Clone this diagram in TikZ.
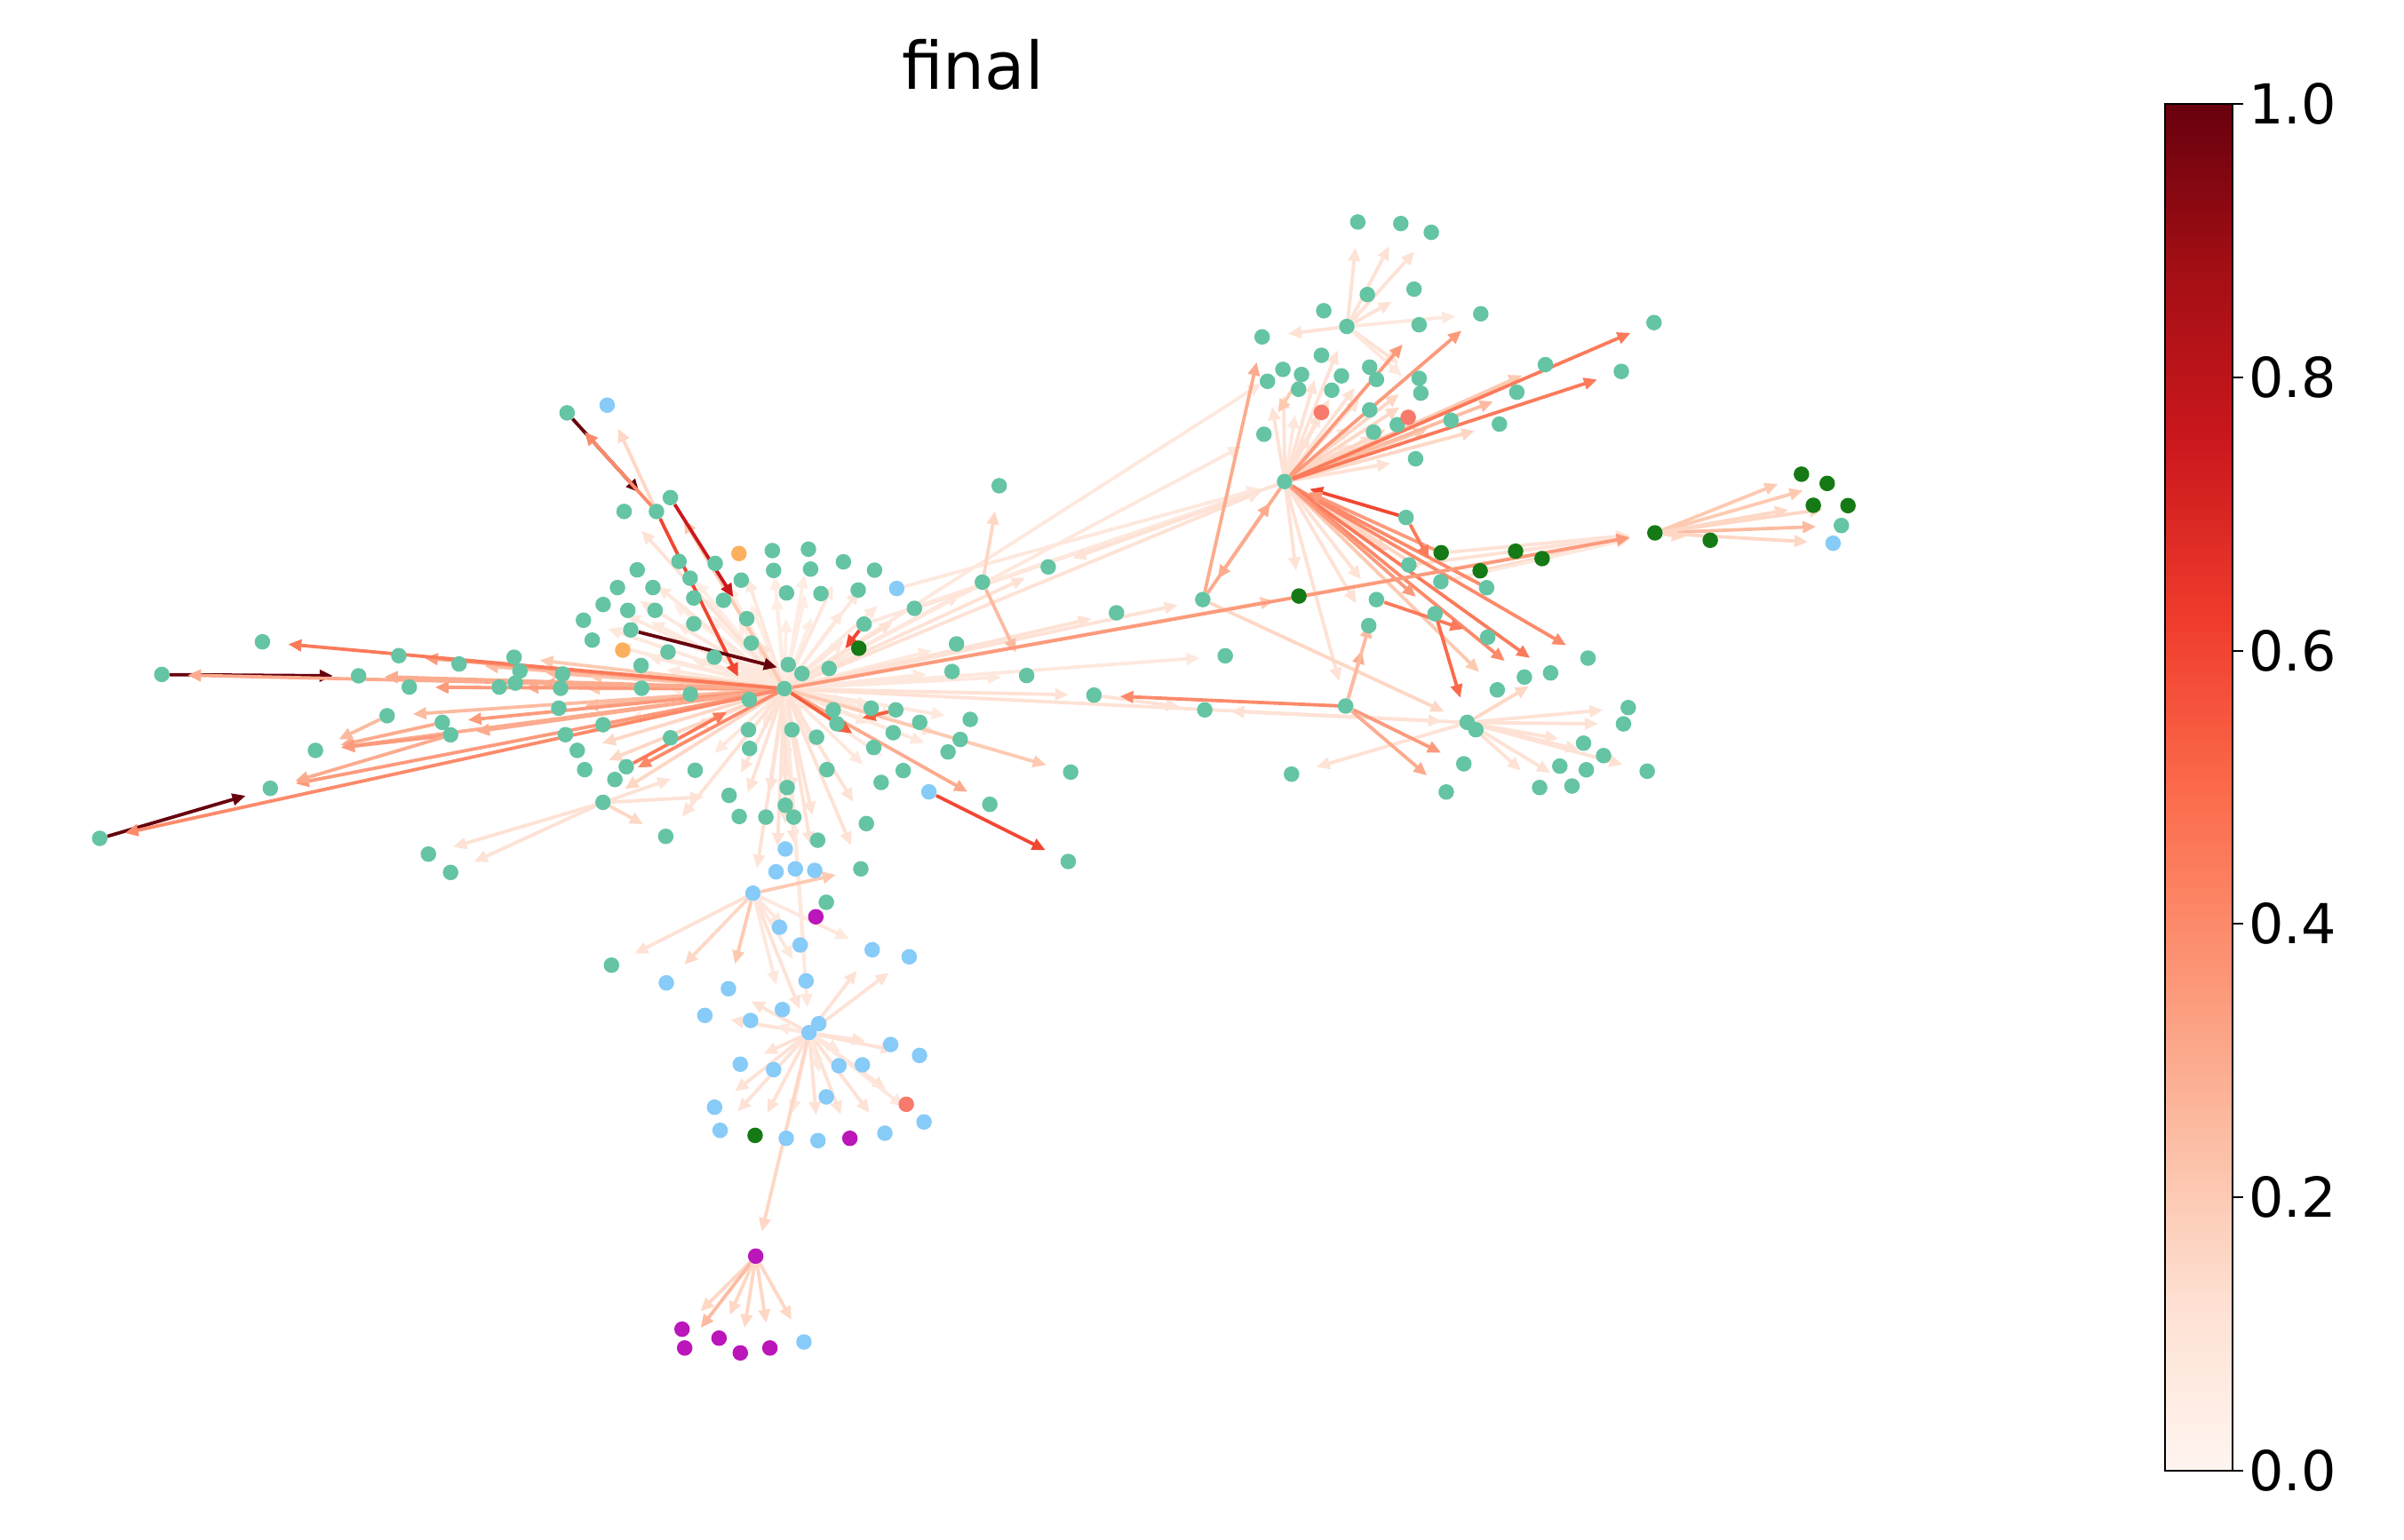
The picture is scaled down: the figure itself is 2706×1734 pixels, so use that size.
\documentclass[tikz,border=0pt]{standalone}
\usepackage{fontspec}
\setmainfont{DejaVu Sans}
\usetikzlibrary{arrows.meta}
\definecolor{rd0}{HTML}{FFF5F0}
\definecolor{rd1}{HTML}{FEE0D2}
\definecolor{rd2}{HTML}{FCBBA1}
\definecolor{rd3}{HTML}{FC9272}
\definecolor{rd4}{HTML}{FB6A4A}
\definecolor{rd5}{HTML}{EF3B2C}
\definecolor{rd6}{HTML}{CB181D}
\definecolor{rd7}{HTML}{A50F15}
\definecolor{rd8}{HTML}{67000D}
\definecolor{ce05}{HTML}{FFEDE4}
\definecolor{ce07}{HTML}{FEE8DD}
\definecolor{ce10}{HTML}{FEE2D5}
\definecolor{ce15}{HTML}{FED7C5}
\definecolor{ce20}{HTML}{FDCAB1}
\definecolor{ce25}{HTML}{FCBBA1}
\definecolor{ce30}{HTML}{FCAB8E}
\definecolor{ce35}{HTML}{FC9A7C}
\definecolor{ce40}{HTML}{FC8A6A}
\definecolor{ce45}{HTML}{FB7A5A}
\definecolor{ce50}{HTML}{FB6A4A}
\definecolor{ce55}{HTML}{F65E3E}
\definecolor{ce60}{HTML}{F14731}
\definecolor{ce75}{HTML}{CB181D}
\definecolor{ce100}{HTML}{67000D}
\definecolor{cT}{HTML}{64C4A4}
\definecolor{cB}{HTML}{87CBF8}
\definecolor{cG}{HTML}{157A15}
\definecolor{cM}{HTML}{BA16BA}
\definecolor{cO}{HTML}{FBB05E}
\definecolor{cS}{HTML}{F77A6C}
\pgfdeclareverticalshading{redsmap}{100bp}{color(0bp)=(rd0); color(25bp)=(rd0); color(31.25bp)=(rd1); color(37.5bp)=(rd2); color(43.75bp)=(rd3); color(50bp)=(rd4); color(56.25bp)=(rd5); color(62.5bp)=(rd6); color(68.75bp)=(rd7); color(75bp)=(rd8); color(100bp)=(rd8)}
\pgfdeclarelayer{bglayer}
\pgfdeclarelayer{edgelayer}
\pgfsetlayers{bglayer,edgelayer,main}
\tikzset{
  nd/.style={circle,inner sep=0pt,minimum size=17.5pt,draw=none},
  ed/.style={line width=3.8pt,-{Triangle[length=15pt,width=13pt]},shorten >=20pt},
  ticklab/.style={anchor=west,inner sep=0pt,font=\fontsize{62}{62}\selectfont},
}
\begin{document}
\begin{tikzpicture}[x=1pt,y=-1pt]
\useasboundingbox (0,0) rectangle (2706,1734);
\begin{pgfonlayer}{bglayer}
\fill[white] (0,0) rectangle (2706,1734);
\end{pgfonlayer}
% title
\node[anchor=base,inner sep=0pt,font=\fontsize{74}{80}\selectfont] (title) at (1095,101) {final};
% colorbar
\shade[shading=redsmap] (2437,117) rectangle (2513,1656);
\draw[line width=2pt] (2437,117) rectangle (2513,1656);
\foreach \v/\yy [count=\k] in {1.0/117,0.8/424.8,0.6/732.6,0.4/1040.4,0.2/1348.2,0.0/1656}{
  \draw[line width=2pt] (2513,\yy) -- (2525,\yy);
  \node[ticklab] (tk\k) at (2531,\yy) {\v};
}
\begin{scope}[scale=1.7346]
% ---------- nodes ----------
\foreach \n/\x/\y in {a1/368/268, a3/405/332, a4/426/332, a5/435/323,
 c2/501.2/357.4, c3/524.6/356.5, c4/547.3/364.7, c5/567.5/370.1, c7/593.4/394.9, c8/413.5/369.9, c9/440.6/364.4, c10/464.1/365.7, c11/447.8/375.3, c12/481/376.6, c13/502/370.3, c14/526/369.4, c15/510.4/384.9, c16/532.7/385.3, c17/556.9/383, c18/400.7/381.4, c19/423.7/381.4, c20/450.2/388.2, c21/469.5/389.7, c22/391.4/392.4, c23/407.4/396.2, c24/425.1/396.2, c25/484.6/401.6, c26/378.6/402.6, c27/450.2/404.9, c28/409.3/408.9, c29/560.7/405.1, c30/384.3/415.5, c32/433.5/423.2, c33/487.5/417.4, c35/463.5/426.6, c36/511.5/431.4, c37/520.4/437.2, c38/538/433.9, c39/416/432, c40/365.1/437.5, c41/617.8/435.9, c42/620.7/418,
 h1/509/447,
 d1/363.8/446.8, d2/362.6/459.7, d3/416.4/446.8, d4/448/450.6, d5/486.2/454.1, d6/666.2/438.5, d7/709.9/451.2, d8/540.7/460.8, d9/565.3/459.7, d10/581.3/460.8, d11/543.1/469.8, d12/596.8/468.9, d13/629.6/467, d14/579.6/475.6, d15/623.1/480, d16/615.2/488.1, d17/567/485.2, d18/485.7/473.7, d19/513.9/473.7, d20/529.9/478.5, d21/486.4/485.8, d22/435.1/478.9, d23/391.3/470.4, d24/366.9/476.9, d25/374.6/487.1, d26/379.4/499.6, d27/406.4/497.7, d28/399/506, d29/391.3/520.8, d30/451.1/500, d31/536.6/499.6, d32/586.1/500.2, d33/571.8/507.9, d35/642.3/522.1, d36/694.8/501.2, d37/693.2/559.2, d38/510.8/511.2, d39/509.6/522.7, d40/515.1/530.4, d41/473.1/516.3, d42/479.7/530, d43/497/530.4, d44/562.2/534.6, d45/530.6/545.4, d46/432/542.9, d51/558.6/564,
 f1/396.8/626.5, f12/536.2/585.7,
 l1/105/437.8, l2/64.7/544.2, l3/170.3/416.6, l4/175.4/511.7, l5/204.7/487.1, l6/232.7/438.7, l7/258.8/425.6, l8/251.2/464.6, l9/265.6/446, l10/297.9/431, l11/287/468.9, l12/292.4/477, l13/324/446, l14/333.6/426.6, l15/337.4/435.5, l16/334.4/443.4, l17/278/554.4, l18/292.4/566.3,
 v1/648.4/315.3, v2/680.2/368, v3/637.5/377.9,
 r1/881.1/144.1, r2/909/145.1, r3/928.8/150.8, r4/887.3/191.2, r5/917.6/187.7, r6/859/201.7, r7/874/211.9, r8/920.9/210.8, r9/960.9/203.7, r10/819/218.7, r11/857.5/230.6, r12/832.5/239.8, r13/844.6/243.1, r14/870.5/244, r15/888.8/238.3, r16/893.2/246.3, r17/920.9/245.6, r18/922/255.2, r19/1002.8/236.7, r20/984.3/254.6, r21/822.5/247.5, r22/842.7/252.7, r23/864.2/253.3, r26/888.8/266.1, r27/906.7/275.7, r28/891.3/280.5, r29/941.6/272.8, r30/973/275.3, r31/918.6/297.8, r32/820.2/281.9, r33/833.6/312.6,
 s1/912.4/335.9, s3/914.2/366.7, s4/935/377.6, s6/964.7/381.5, s9/780.5/389.2, s11/724.5/397.8, s12/893.2/389.2, s13/888.2/406.1, s14/931.2/398.4, s15/965.4/413.6, s16/1030.5/427.2, s17/1006.2/436.8, s18/989.2/439.5, s19/971.6/447.8, s20/795.1/425.7, s21/781.8/460.8, s22/873.2/458.3, s23/952.1/468.9, s24/957.7/473.7, s25/1027.6/482.4, s26/949.9/495.8, s27/1012.2/497.3, s28/1029.4/499.7, s29/999.1/511.2, s30/1020.1/510.2, s31/938.5/514.1, s32/838.1/502.5, s33/1056.6/459.3, s34/1053.5/469.9, s35/1040.6/490.5, s36/1068.9/500.6,
 u1/1073.3/209.4, u2/1052.1/241.1, u9/1194.9/341.1}
  \node[nd,fill=cT] (\n) at (\x,\y) {};
\foreach \n/\x/\y in {a2/394/263, c6/581.9/382, d34/602.8/514, d47/509.6/551.1, d48/503.6/565.9, d49/516.1/564, d50/528.7/565, d52/488.6/579.8,
 f2/432.4/638, f3/472.7/641.8, f4/457.4/659.1, f5/487.1/662.4, f6/507.7/655.3, f7/505.8/601.9, f8/519.2/613.4, f9/523.1/636.7, f10/566/616.5, f11/590/621.1, f14/525/670.3, f15/531.3/664.5, f16/578/678, f17/596.7/685.1, f18/480.4/690.8, f19/502/694.3, f20/544.4/691.8, f21/559.6/691.2, f22/536.2/712, f24/599.6/728.3, f25/463.7/718.7, f26/467.3/733.7, f28/510.2/738.9, f29/530.8/740.4, f31/574.2/735.6, g7/521.7/871.1, u10/1189.5/352.6}
  \node[nd,fill=cB] (\n) at (\x,\y) {};
\foreach \n/\x/\y in {c34/557.3/420.8, f27/490/737, s2/935.2/358.8, s5/960.5/370.5, s7/983.5/357.8, s8/1000.7/362.6, s10/842.9/386.9, u3/1073.9/345.9, u4/1109.8/350.7, u5/1169/307.8, u6/1185.7/313.8, u7/1176.7/328, u8/1199.2/328.2}
  \node[nd,fill=cG] (\n) at (\x,\y) {};
\foreach \n/\x/\y in {f13/529.4/595.1, f30/551.5/738.9, g1/490.4/815.4, g2/442.6/862.8, g3/444.3/875, g4/466.6/868.6, g5/480.4/878.2, g6/499.6/875}
  \node[nd,fill=cM] (\n) at (\x,\y) {};
\foreach \n/\x/\y in {c1/479.5/359.3, c31/404.1/422}
  \node[nd,fill=cO] (\n) at (\x,\y) {};
\foreach \n/\x/\y in {f23/588.1/716.8, r24/857.5/267.7, r25/913.8/270.9}
  \node[nd,fill=cS] (\n) at (\x,\y) {};
% ---------- edges ----------
\begin{pgfonlayer}{edgelayer}
\foreach \t in {c2,c3,c13,c14,c15,c16,c12,c10,c11,c9,c20,c21,c27,c35,c33,c24,c19}
  \draw[ed,ce05] (h1) -- (\t);
\foreach \t in {c1,c4,c5,c6,c8,c17,c18,c22,c23,c26,c30,c31,c32,c39,c41,c42,c29,c34,d3,d4,d8,d9,d10,d12,d13,d14,d15,d16,d18,d20,d21,d22,d23,d30,d31,d32,d33}
  \draw[ed,ce07] (h1) -- (\t);
\foreach \t in {d38,d39,d40,d41,d42,d43,d44,d45,d46,d47,d48,d49,d50,d51,d11,c25}
  \draw[ed,ce10] (h1) -- (\t);
\foreach \s/\t/\c in {
 h1/a3/ce10, h1/a5/ce20, h1/d52/ce10, h1/f14/ce07, h1/f9/ce07, h1/d29/ce15, h1/d7/ce10, h1/d6/ce07, h1/v3/ce10, h1/v2/ce10, h1/r33/ce10, h1/r32/ce07, h1/r12/ce07, h1/s9/ce10, h1/s11/ce10, h1/s10/ce20, h1/s23/ce10, h1/s20/ce07, h1/c7/ce10, c7/r33/ce10, c6/r33/ce07, c29/r33/ce07, d7/s21/ce10, v3/v1/ce15, v3/d6/ce25, h1/d36/ce20, h1/d35/ce30,
 d29/l17/ce10, d29/l18/ce10, d29/d30/ce10, d29/d41/ce10, d29/d46/ce15, a4/a2/ce15,
 d52/f1/ce10, d52/f2/ce15, d52/f3/ce20, d52/d51/ce20, d52/f14/ce10, d52/f8/ce07, d52/f9/ce07, d52/f6/ce07, d52/f10/ce07,
 f14/f10/ce10, f14/f11/ce10, f14/f3/ce10, f14/f4/ce10, f14/f16/ce10, f14/f17/ce10, f14/f18/ce10, f14/f25/ce10, f14/f26/ce10, f14/f27/ce10, f14/f29/ce10, f14/f30/ce10, f14/f31/ce10, f14/f23/ce10, f14/f21/ce07, f14/f22/ce07, f14/f28/ce07, f14/f24/ce07, f14/f5/ce07, f14/g1/ce15,
 g1/g2/ce15, g1/g3/ce25, g1/g4/ce15, g1/g5/ce15, g1/g6/ce15, g1/g7/ce15,
 r33/r7/ce10, r33/r31/ce10, r33/r26/ce10, r33/r27/ce10, r33/r15/ce10, r33/r16/ce10, r33/r14/ce10, r33/r23/ce10, r33/r22/ce07, r33/r24/ce10, r33/r12/ce10, r33/r11/ce10, r33/r28/ce10, r33/r21/ce10, r33/r17/ce15, r33/r18/ce15, r33/r25/ce15, r33/r30/ce15, r33/r29/ce20, r33/r19/ce20, r33/r20/ce25,
 r7/r1/ce10, r7/r2/ce10, r7/r3/ce10, r7/r5/ce10, r7/r10/ce10, r7/r17/ce10, r7/r18/ce07, r7/r9/ce07, r13/r32/ce20,
 s1/r33/ce60,
 r33/s12/ce10, r33/s13/ce10, r33/s22/ce10, r33/s3/ce15, r33/s4/ce15, r33/v2/ce10, r33/s10/ce10, r33/s19/ce20,
 s10/u3/ce15, s2/u3/ce10, s5/u3/ce15, s7/u3/ce10, s8/u3/ce07, s3/u3/ce10, s4/u3/ce07,
 u3/u5/ce20, u3/u6/ce20, u3/u7/ce15, u3/u9/ce25, u3/u10/ce15, u3/u8/ce15, u3/u4/ce15,
 s9/s23/ce15, s23/s21/ce10, s23/s32/ce10, s23/s17/ce15, s23/s33/ce10, s23/s34/ce10, s23/s25/ce10, s23/s35/ce10, s23/s36/ce10, s23/s29/ce10, s23/s30/ce10,
 r33/r8/ce35, r33/r9/ce35, r33/u2/ce45, r33/u1/ce45, s9/r10/ce30, r33/s9/ce30, s9/r33/ce30, r33/s16/ce40, r33/s17/ce45, r33/s18/ce40, s6/r33/ce40, s2/r33/ce35, r33/s14/ce35, s1/s4/ce45,
 s22/d7/ce40, s22/s26/ce35, s22/s31/ce30, s22/s13/ce30, s22/s12/ce25, s12/s15/ce45, s14/s23/ce50,
 h1/u3/ce35,
 h1/l14/ce20, h1/l15/ce25, h1/l16/ce30, h1/c40/ce20, h1/d1/ce20, h1/d2/ce25, h1/d24/ce15, h1/d25/ce15, h1/d26/ce15, h1/l13/ce30, h1/l10/ce25, h1/l8/ce25, h1/l12/ce30, h1/l11/ce35, h1/l9/ce35, h1/l7/ce35, h1/l6/ce30, h1/l5/ce30, h1/l4/ce35, l11/l5/ce30, l12/l5/ce35, l8/l5/ce25, l12/l4/ce30,
 l1/l6/ce100, l2/l4/ce100, h1/l1/ce30, h1/l2/ce40, h1/l3/ce45,
 h1/d28/ce40, d27/d5/ce45, h1/d17/ce55, d10/d11/ce55, d34/d37/ce60, c29/c38/ce60, a1/a4/ce100, a4/a1/ce40, a4/d5/ce60, a5/c25/ce75, c28/c37/ce100}
  \draw[ed,\c] (\s) -- (\t);
\end{pgfonlayer}
\end{scope}
\end{tikzpicture}
\end{document}
